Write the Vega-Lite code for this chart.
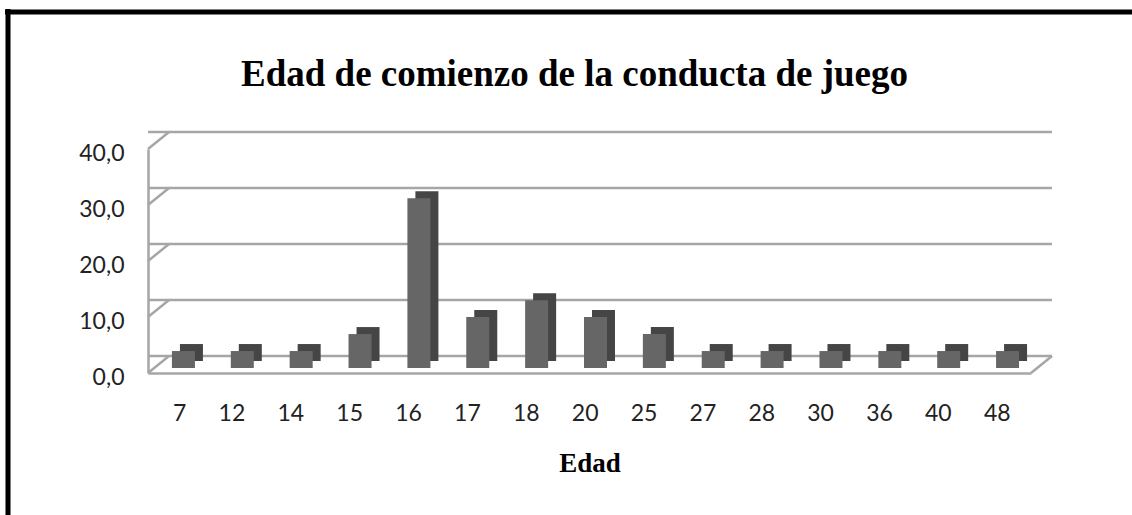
{
  "$schema": "https://vega.github.io/schema/vega-lite/v6.json",
  "autosize": "none",
  "width": 883,
  "height": 224,
  "padding": {"left": 148, "top": 149, "right": 101, "bottom": 142},
  "background": "white",
  "title": {
    "text": "Edad de comienzo de la conducta de juego",
    "font": "Liberation Serif",
    "fontWeight": "bold",
    "fontSize": 37,
    "color": "#000000",
    "anchor": "middle",
    "dx": -15,
    "baseline": "alphabetic",
    "offset": -116
  },
  "config": {
    "view": {"stroke": null},
    "axis": {"labelFont": "Lato", "labelFontSize": 23, "labelColor": "#222222"}
  },
  "datasets": {
    "bars": [
      {"Edad": "7", "pct": 3.03},
      {"Edad": "12", "pct": 3.03},
      {"Edad": "14", "pct": 3.03},
      {"Edad": "15", "pct": 6.06},
      {"Edad": "16", "pct": 30.30},
      {"Edad": "17", "pct": 9.09},
      {"Edad": "18", "pct": 12.12},
      {"Edad": "20", "pct": 9.09},
      {"Edad": "25", "pct": 6.06},
      {"Edad": "27", "pct": 3.03},
      {"Edad": "28", "pct": 3.03},
      {"Edad": "30", "pct": 3.03},
      {"Edad": "36", "pct": 3.03},
      {"Edad": "40", "pct": 3.03},
      {"Edad": "48", "pct": 3.03}
    ],
    "grid": [{"t": 0}, {"t": 10}, {"t": 20}, {"t": 30}, {"t": 40}],
    "frame": [{"t": 0}]
  },
  "layer": [
    {
      "data": {"name": "grid"},
      "mark": {"type": "rule", "color": "#a6a6a6", "strokeWidth": 2.5, "xOffset": 21, "yOffset": -17},
      "encoding": {
        "y": {"field": "t", "type": "quantitative", "scale": {"domain": [0, 40]}}
      }
    },
    {
      "data": {"name": "grid"},
      "mark": {"type": "rule", "color": "#a6a6a6", "strokeWidth": 2.5, "y2Offset": -17},
      "encoding": {
        "x": {"value": 0},
        "x2": {"value": 21},
        "y": {"field": "t", "type": "quantitative"},
        "y2": {"field": "t"}
      }
    },
    {
      "data": {"name": "frame"},
      "mark": {"type": "rule", "color": "#a6a6a6", "strokeWidth": 2.5, "y2Offset": -17},
      "encoding": {
        "x": {"value": 883},
        "x2": {"value": 904},
        "y": {"field": "t", "type": "quantitative"},
        "y2": {"field": "t"}
      }
    },
    {
      "data": {"name": "bars"},
      "mark": {"type": "bar", "color": "#454545", "size": 23, "xOffset": 14, "yOffset": -12},
      "encoding": {
        "x": {"field": "Edad", "type": "nominal", "sort": null},
        "y": {"field": "pct", "type": "quantitative"}
      }
    },
    {
      "data": {"name": "bars"},
      "mark": {"type": "bar", "color": "#666666", "size": 23, "xOffset": 6, "yOffset": -5},
      "encoding": {
        "x": {
          "field": "Edad",
          "type": "nominal",
          "sort": null,
          "scale": {"paddingInner": 0.2, "paddingOuter": 0.1},
          "axis": {
            "labelAngle": 0,
            "ticks": false,
            "labelPadding": 40,
            "labelOffset": 9,
            "domainColor": "#a6a6a6",
            "domainWidth": 2.5,
            "title": "Edad",
            "titleFont": "Liberation Serif",
            "titleFontWeight": "bold",
            "titleFontSize": 27,
            "titleColor": "#000000",
            "titlePadding": 25
          }
        },
        "y": {
          "field": "pct",
          "type": "quantitative",
          "scale": {"domain": [0, 40]},
          "axis": {
            "values": [0, 10, 20, 30, 40],
            "labelExpr": "replace(format(datum.value, '.1f'), '.', ',')",
            "ticks": false,
            "grid": false,
            "labelPadding": 24,
            "labelOffset": 4,
            "domainColor": "#a6a6a6",
            "domainWidth": 2.5,
            "title": null
          }
        }
      }
    },
    {
      "data": {"name": "frame"},
      "mark": {"type": "rule", "color": "#000000", "strokeWidth": 5},
      "encoding": {
        "x": {"value": -143},
        "x2": {"value": 990},
        "y": {"value": -137}
      }
    },
    {
      "data": {"name": "frame"},
      "mark": {"type": "rule", "color": "#000000", "strokeWidth": 5},
      "encoding": {
        "x": {"value": -140},
        "y": {"value": -140},
        "y2": {"value": 370}
      }
    }
  ]
}
